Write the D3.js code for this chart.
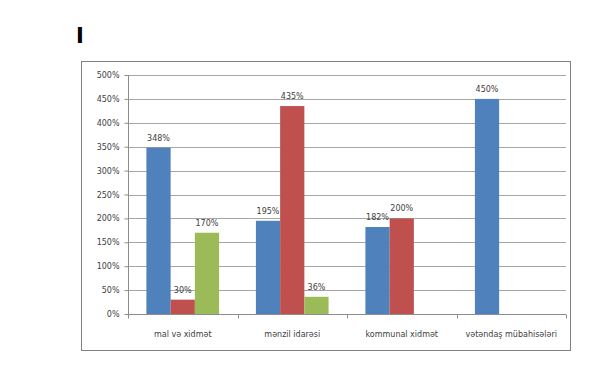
<!DOCTYPE html>
<html>
<head>
<meta charset="utf-8">
<script src="https://cdn.jsdelivr.net/npm/d3@7"></script>
<style>
	body { margin: 0; background: #fff; }
	svg { display: block; font-family: "DejaVu Sans", sans-serif; }
</style>
</head>
<body>
<script>
const categories = ["mal və xidmət", "mənzil idarəsi", "kommunal xidmət", "vətəndaş mübahisələri"];
const seriesNames = ["s1", "s2", "s3"];
const seriesColors = ["#4f81bd", "#c0504d", "#9bbb59"];
const series1 = [348, 195, 182, 450];
const series2 = [30, 435, 200, null];
const series3 = [170, 36, null, null];
const yTicks = [0, 50, 100, 150, 200, 250, 300, 350, 400, 450, 500];

function buildRows() {
	const values = [series1, series2, series3];
	const rows = [];
	categories.forEach((cat, i) => {
		values.forEach((arr, s) => {
			if (arr[i] !== null) {
				rows.push({cat: cat, series: seriesNames[s], color: seriesColors[s], value: arr[i]});
			}
		});
	});
	return rows;
}

function constructChart(rows) {
	const width = 591;
	const height = 371;
	const plot = {left: 128, right: 566, top: 75, bottom: 314};

	const svg = d3.select("body")
		.append("svg")
		.attr("width", width)
		.attr("height", height);

	// title mark
	svg.append("text")
		.attr("x", 76)
		.attr("y", 43)
		.attr("font-size", 21)
		.attr("font-weight", "bold")
		.attr("fill", "#000")
		.text("I");

	// chart area border
	svg.append("rect")
		.attr("x", 81.5)
		.attr("y", 61.5)
		.attr("width", 489)
		.attr("height", 289)
		.attr("fill", "none")
		.attr("stroke", "#808080")
		.attr("stroke-width", 1);

	const scaleX = d3.scaleBand().domain(categories).range([plot.left, plot.right]).paddingInner(0).paddingOuter(0);
	const scaleInner = d3.scaleBand().domain(seriesNames).range([0, scaleX.bandwidth()]).paddingInner(0).paddingOuter(0.76);
	const scaleY = d3.scaleLinear().domain([0, 500]).range([plot.bottom, plot.top]);

	// gridlines
	svg.append("g")
		.selectAll("line")
		.data(yTicks.filter(d => d > 0))
		.join("line")
		.attr("x1", plot.left)
		.attr("x2", plot.right)
		.attr("y1", d => Math.round(scaleY(d)) + 0.5)
		.attr("y2", d => Math.round(scaleY(d)) + 0.5)
		.attr("stroke", "#a6a6a6")
		.attr("stroke-width", 1);

	// bars
	svg.append("g")
		.selectAll("rect")
		.data(rows)
		.join("rect")
		.attr("x", d => scaleX(d.cat) + scaleInner(d.series))
		.attr("y", d => scaleY(d.value))
		.attr("width", scaleInner.bandwidth())
		.attr("height", d => plot.bottom - scaleY(d.value))
		.attr("fill", d => d.color);

	// axes
	const axisY = d3.axisLeft(scaleY)
		.tickValues(yTicks)
		.tickSize(4)
		.tickFormat(d => d + "%");

	const gy = svg.append("g")
		.attr("transform", `translate(${plot.left + 0.5},0)`)
		.call(axisY);
	gy.select(".domain").attr("stroke", "#8c8c8c").attr("d", `M0,${plot.top}V${plot.bottom}`);
	gy.selectAll(".tick line").attr("stroke", "#8c8c8c");
	gy.selectAll(".tick text")
		.attr("font-size", 8)
		.attr("fill", "#404040")
		.attr("x", -9)
		.attr("font-family", "DejaVu Sans, sans-serif");

	const gx = svg.append("g")
		.attr("transform", `translate(0,${plot.bottom + 0.5})`);
	gx.append("line")
		.attr("x1", plot.left)
		.attr("x2", plot.right)
		.attr("stroke", "#8c8c8c");
	const bounds = categories.map(c => scaleX(c)).concat([plot.right]);
	gx.selectAll(".cat-tick")
		.data(bounds)
		.join("line")
		.attr("class", "cat-tick")
		.attr("x1", d => Math.round(d) + 0.5)
		.attr("x2", d => Math.round(d) + 0.5)
		.attr("y1", 0)
		.attr("y2", 4)
		.attr("stroke", "#8c8c8c");
	gx.selectAll(".cat-label")
		.data(categories)
		.join("text")
		.attr("class", "cat-label")
		.attr("x", d => scaleX(d) + scaleX.bandwidth() / 2)
		.attr("y", 22)
		.attr("text-anchor", "middle")
		.attr("font-size", 8)
		.attr("fill", "#404040")
		.text(d => d);

	// value labels
	svg.append("g")
		.selectAll("text")
		.data(rows)
		.join("text")
		.attr("x", d => scaleX(d.cat) + scaleInner(d.series) + scaleInner.bandwidth() / 2)
		.attr("y", d => scaleY(d.value) - 7)
		.attr("text-anchor", "middle")
		.attr("font-size", 8)
		.attr("fill", "#404040")
		.text(d => d.value + "%");
}

constructChart(buildRows());
</script>
</body>
</html>
